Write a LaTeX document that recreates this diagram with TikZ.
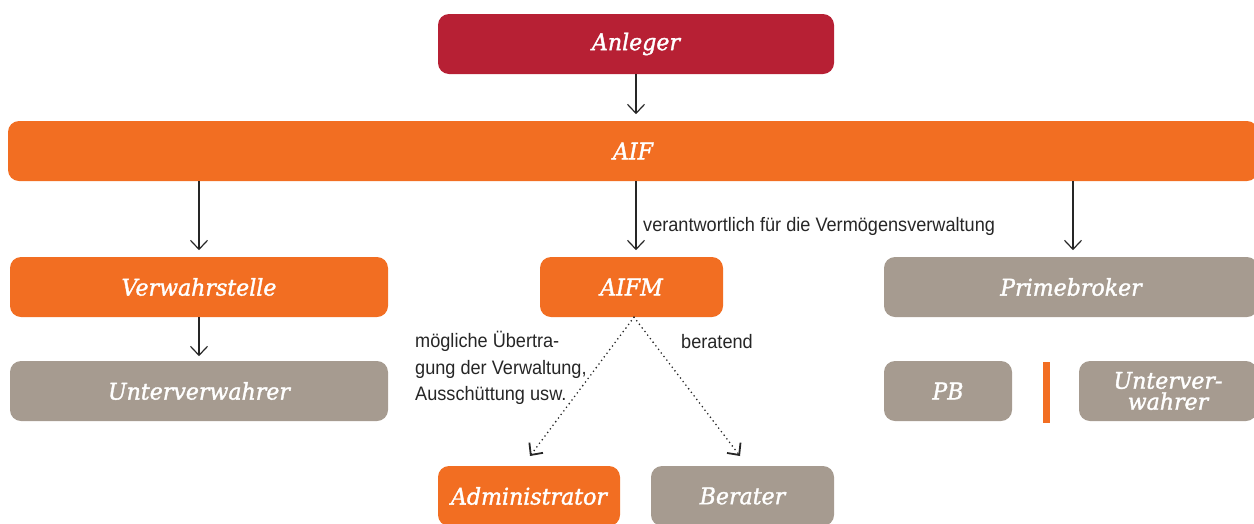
\documentclass[tikz,border=0pt]{standalone}
\usepackage{fontspec}
\setmainfont{Liberation Serif}
\newfontfamily\notefont[FakeStretch=0.93]{Liberation Sans}
\newfontfamily\partyfont[FakeStretch=0.96,FakeBold=1.5]{DejaVu Serif}
\usetikzlibrary{positioning,arrows.meta}
\definecolor{investred}{HTML}{B72034}
\definecolor{fundorange}{HTML}{F26E22}
\definecolor{custodygrey}{HTML}{A69B90}
\tikzset{
  party/.style  = {fill=fundorange, rounded corners=11pt, text=white, align=center,
                   inner sep=0pt, minimum height=60pt,
                   font=\partyfont\fontsize{23}{21}\selectfont\itshape},
  outside/.style= {party, fill=custodygrey},
  investor/.style={party, fill=investred},
  note/.style   = {inner sep=0pt, align=left, text=black!85,
                   font=\notefont\fontsize{19.5}{26.5}\selectfont},
  link/.style   = {-{Straight Barb[length=9pt,width=17pt]}, line width=1.2pt, draw=black!85},
  hint/.style   = {link, line width=1.8pt, line cap=round, dash pattern=on 0pt off 4.5pt},
}
\begin{document}
\begin{tikzpicture}[x=1pt,y=-1pt]
  \useasboundingbox (0,0) rectangle (1254,523);

  \node[investor, minimum width=396pt] (anl) at (636,44)  {Anleger};
  \node[party,    minimum width=1250pt] (aif) at (633,151) {AIF};

  \node[party,   minimum width=378pt] (vws)  at (199,287)  {Verwahrstelle};
  \node[party,   minimum width=183pt] (aifm) at (631.5,287) {AIFM};
  \node[outside, minimum width=374pt] (pbr)  at (1071,287) {Primebroker};

  \node[outside, minimum width=378pt] (uvw) at (199,391)  {Unterverwahrer};
  \node[outside, minimum width=128pt] (pb)  at (948,391)  {PB};
  \node[outside, minimum width=178pt] (uvp) at (1168,391) {Unterver-\\wahrer};
  \fill[fundorange] (1043,362) rectangle (1050,423);

  \node[party,   minimum width=182pt] (adm) at (529,496)  {Administrator};
  \node[outside, minimum width=183pt] (ber) at (742.5,496) {Berater};

  \coordinate (admtip) at (530,456);
  \coordinate (bertip) at (740,456);

  \draw[link] (anl.south) -- ++(0,40);
  \draw[link] (aif.south -| vws.north) -- ++(0,69);
  \draw[link] (aif.south -| 636,0) -- ++(0,69);
  \draw[link] (aif.south -| 1073,0) -- ++(0,69);
  \draw[link] (vws.south) -- ++(0,39);
  \draw[hint] ([xshift=2.5pt]aifm.south) -- (admtip);
  \draw[hint] ([xshift=2.5pt]aifm.south) -- (bertip);

  \node[note, anchor=west] (resp) at (643,226) {verantwortlich für die Vermögensverwaltung};
  \node[note, anchor=west] (adv)  at (681,342) {beratend};
  \node[note, anchor=north west] (dlg) at (415,331)
       {mögliche Übertra-\\gung der Verwaltung,\\Ausschüttung usw.};
\end{tikzpicture}
\end{document}
